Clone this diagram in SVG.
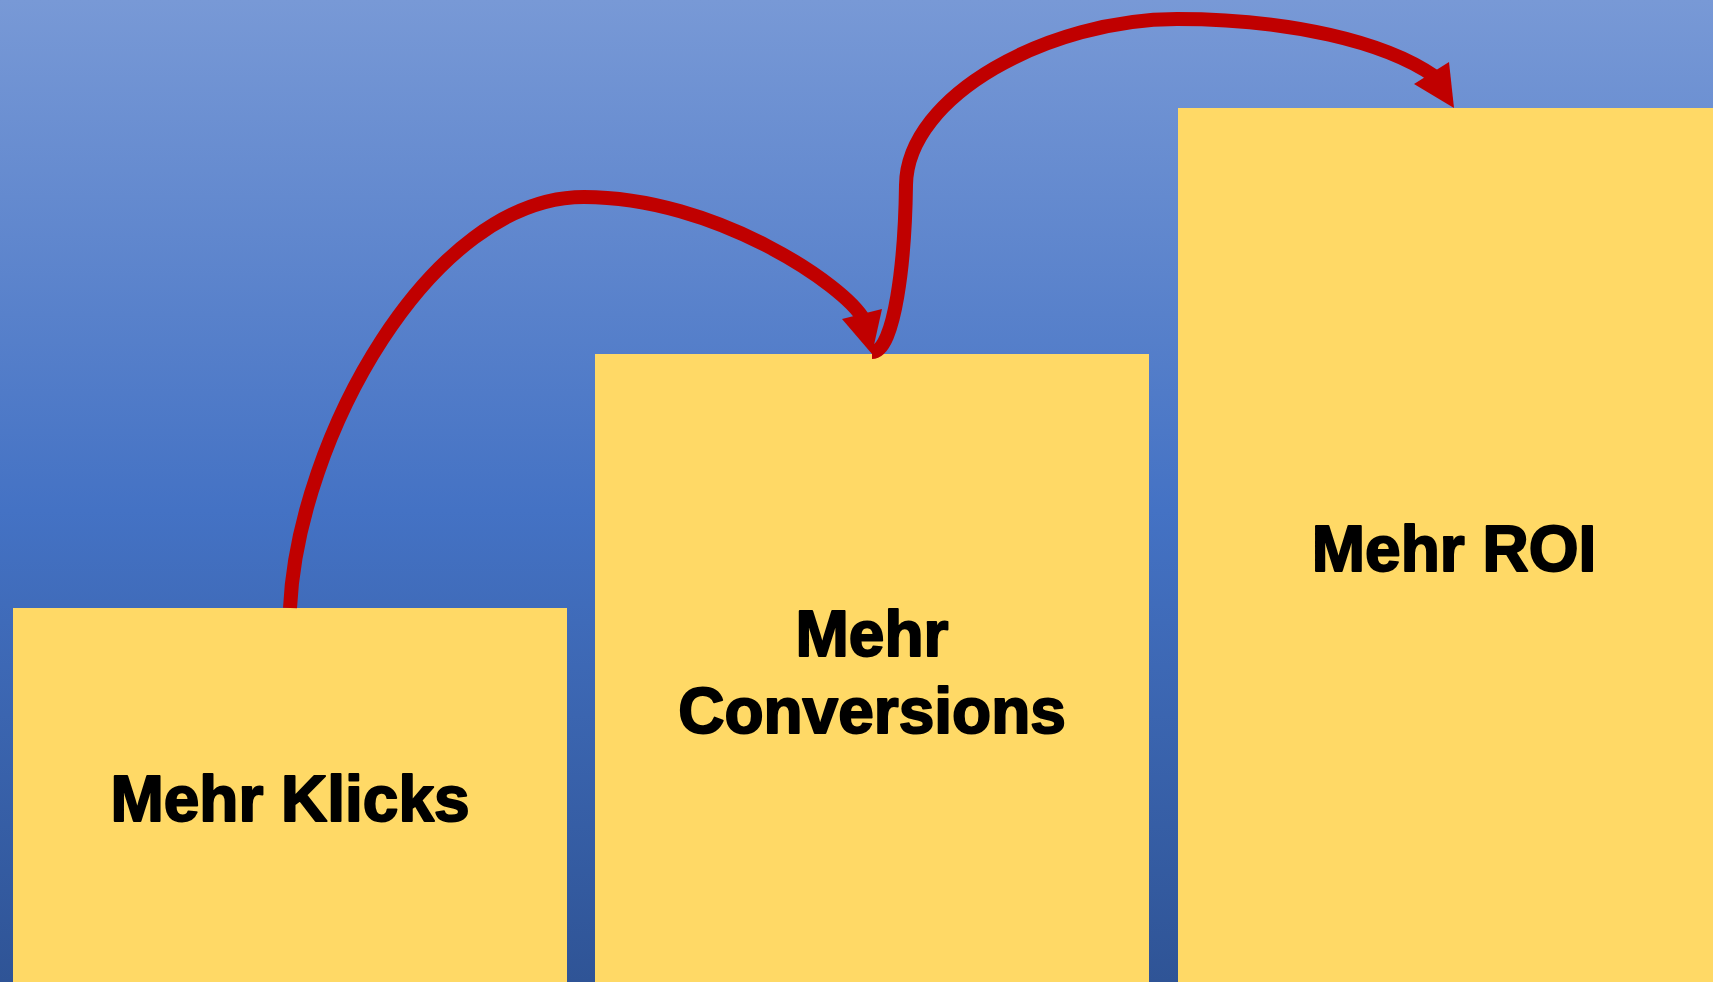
<svg xmlns="http://www.w3.org/2000/svg" width="1713" height="982" viewBox="0 0 1713 982">
  <defs>
    <linearGradient id="sky" x1="0" y1="0" x2="0" y2="1">
      <stop offset="0" stop-color="#7899D6"/>
      <stop offset="0.52" stop-color="#4472C4"/>
      <stop offset="1" stop-color="#2F5496"/>
    </linearGradient>
    <style>
      .step { fill: #FFD966; }
      .label { font-family: "Liberation Sans", Arial, sans-serif; font-weight: bold; font-size: 64px;
               fill: #000; stroke: #000; stroke-width: 2; stroke-linejoin: round; text-anchor: middle; }
      .flow { fill: none; stroke: #C00000; stroke-width: 14; }
      .head { fill: #C00000; }
    </style>
  </defs>

  <!-- backdrop -->
  <rect x="0" y="0" width="1713" height="982" fill="url(#sky)"/>

  <!-- steps -->
  <g id="step-klicks">
    <rect class="step" x="13" y="608" width="554" height="374"/>
    <text class="label" x="290" y="821">Mehr Klicks</text>
  </g>
  <g id="step-conversions">
    <rect class="step" x="595" y="354" width="554" height="628"/>
    <text class="label" x="872" y="656">Mehr</text>
    <text class="label" x="872" y="733">Conversions</text>
  </g>
  <g id="step-roi">
    <rect class="step" x="1178" y="108" width="553" height="874"/>
    <text class="label" x="1454" y="571">Mehr ROI</text>
  </g>

  <!-- connectors -->
  <g id="connectors">
    <path class="flow" d="M 290 608 C 298 440, 430 197, 584 197 C 715 197, 845 285, 864 320"/>
    <polygon class="head" points="842,319 882,309 872,354"/>
    <path class="flow" d="M 872 352 C 895 352, 905 260, 906 185 C 907 95, 1050 19, 1177 19 C 1290 19, 1385 42, 1434 76"/>
    <polygon class="head" points="1414,84 1449,62 1454,108"/>
  </g>
</svg>
